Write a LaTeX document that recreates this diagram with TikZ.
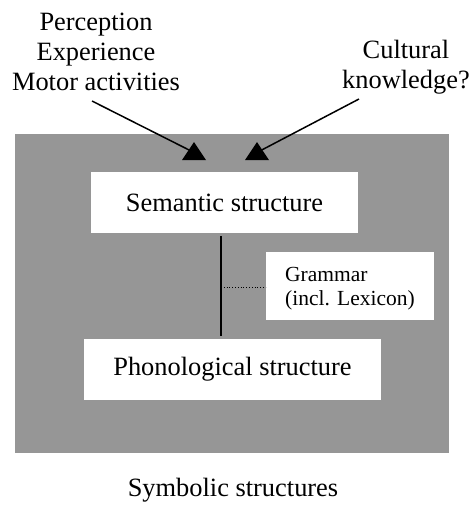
\documentclass[tikz,border=0pt]{standalone}
\usepackage{fontspec}
\setmainfont{Liberation Serif}
\begin{document}
\begin{tikzpicture}[x=1pt,y=-1pt,
  bigtext/.style={font=\fontsize{26.4}{30}\selectfont, inner sep=0pt, align=center},
  smalltext/.style={font=\fontsize{21.5}{24}\selectfont, inner sep=0pt, align=left},
  whitebox/.style={fill=white, draw=none},
  conn/.style={line width=1.5pt},
  tri/.style={fill=black}]
\useasboundingbox (0,0) rectangle (476,515);
\fill[fill={rgb,255:red,150;green,150;blue,150}] (15,134) rectangle (449,453);
% boxes
\node[whitebox, minimum width=267pt, minimum height=61pt] (sembox) at (224.5,202.5) {};
\node[bigtext] (sem) at (sembox.center) {Semantic structure};
\node[whitebox, minimum width=297pt, minimum height=61pt] (phonbox) at (232.5,369.5) {};
\node[bigtext] (phon) at (phonbox.center) {Phonological structure};
\node[whitebox, minimum width=168pt, minimum height=68pt] (grambox) at (350,286) {};
\node[smalltext, anchor=west] (gram) at (285,289) {Grammar\\(incl. Lexicon)};
% vertical link
\coordinate (vtop) at (221,236);
\coordinate (vbot) at (221,336);
\coordinate (vmid) at (221,287);
\draw[line width=1.7pt] (vtop) -- (vbot);
\draw[line width=0.8pt, dotted] (vmid) -- (grambox.west |- vmid);
% top texts
\node[bigtext] (percep) at (96,52) {Perception\\Experience\\Motor activities};
\node[bigtext] (cult) at (406,67) {Cultural\\knowledge?};
\coordinate (ls) at (92,101);
\coordinate (le) at (195,153);
\coordinate (rs) at (359,99);
\coordinate (re) at (256,153);
\draw[conn] (ls) -- (le);
\draw[conn] (rs) -- (re);
\fill[tri] (194,142) -- (206,160) -- (182,160) -- cycle;
\fill[tri] (257,142) -- (269,160) -- (245,160) -- cycle;
% caption
\node[bigtext] (caption) at (233,490) {Symbolic structures};
\end{tikzpicture}
\end{document}
